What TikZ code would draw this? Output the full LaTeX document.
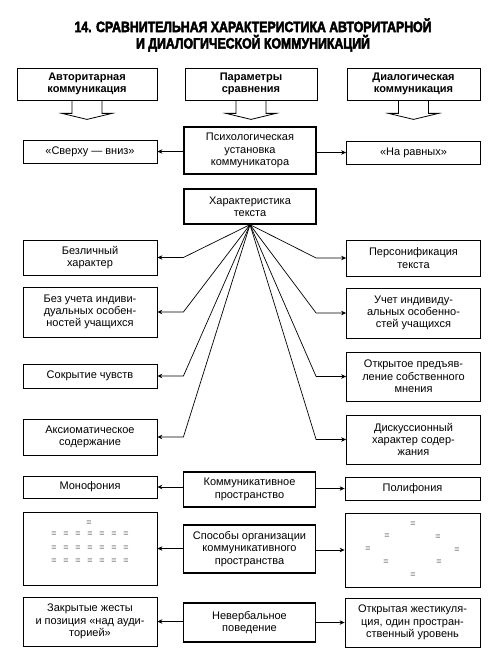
\documentclass[tikz,border=0pt]{standalone}
\usepackage{fontspec}
\setmainfont{Liberation Sans}
\newfontfamily\titlefont{Liberation Sans}[FakeStretch=0.82,FakeBold=3]
\usetikzlibrary{arrows.meta}
\begin{document}
\begin{tikzpicture}[x=1pt,y=-1pt]
\tikzstyle{every node}+=[inner sep=0pt,align=center,font=\fontsize{11}{12.3}\selectfont]
\tikzstyle{box}=[draw,line width=0.8pt,minimum width=134pt]
\tikzstyle{midbox}=[draw,line width=1.3pt,minimum width=132pt]
\tikzstyle{headbox}=[box,minimum height=32pt,font=\fontsize{11}{12.3}\selectfont\bfseries]
\tikzstyle{arr}=[line width=0.7pt,-{Stealth[length=5pt,width=4.5pt]}]
\tikzstyle{dot}=[font=\fontsize{9}{9}\selectfont,text=black!70]
\useasboundingbox (0,0) rectangle (493,658);
\node [font=\titlefont\fontsize{15}{16.5}\selectfont\bfseries] (title) at (253,35) {14. СРАВНИТЕЛЬНАЯ ХАРАКТЕРИСТИКА АВТОРИТАРНОЙ\\И ДИАЛОГИЧЕСКОЙ КОММУНИКАЦИЙ};
\node [headbox,minimum width=140pt] (aut) at (87,84) {Авторитарная\\коммуникация};
\node [headbox,minimum width=132pt] (par) at (251,84) {Параметры\\сравнения};
\node [headbox,minimum width=133pt] (dia) at (413.5,84) {Диалогическая\\коммуникация};
\foreach \n in {aut,par,dia}
  \draw [line width=0.8pt] ([xshift=-15pt]\n.south) -- ++(0,13) -- ++(-10,0) -- ++(25,6) -- ++(25,-6) -- ++(-10,0) -- ++(0,-13);
\node [midbox,minimum height=47pt] (psych) at (250,150.5) {Психологическая\\установка\\коммуникатора};
\node [box,minimum height=23pt] (sv) at (90,151.5) {«Сверху — вниз»};
\node [box,minimum height=23pt] (nr) at (413.5,152.5) {«На равных»};
\node [midbox,minimum height=35pt] (xar) at (250,206.5) {Характеристика\\текста};
\node [box,minimum height=35pt] (l1) at (90,257.5) {Безличный\\характер};
\node [box,minimum height=50pt] (l2) at (90,312) {Без учета индиви-\\дуальных особен-\\ностей учащихся};
\node [box,minimum height=24pt] (l3) at (90,376) {Сокрытие чувств};
\node [box,minimum height=36pt] (l4) at (90,437) {Аксиоматическое\\содержание};
\node [box,minimum height=36pt] (r1) at (413.5,258) {Персонификация\\текста};
\node [box,minimum height=50pt] (r2) at (413.5,313) {Учет индивиду-\\альных особенно-\\стей учащихся};
\node [box,minimum height=49pt] (r3) at (413.5,376.5) {Открытое предъяв-\\ление собственного\\мнения};
\node [box,minimum height=49pt] (r4) at (413.5,439.5) {Дискуссионный\\характер содер-\\жания};
\foreach \n in {l1,l2,l3,l4}
  \draw [arr] (xar.south) -- ([xshift=26pt]\n.east) -- (\n.east);
\foreach \n in {r1,r2,r3,r4}
  \draw [arr] (xar.south) -- ([xshift=-30pt]\n.west) -- (\n.west);
\node [midbox,minimum height=35pt] (komm) at (249.5,489.5) {Коммуникативное\\пространство};
\node [box,minimum height=22pt] (mono) at (90,487) {Монофония};
\node [box,minimum height=23pt,minimum width=135pt] (poli) at (412.5,488.5) {Полифония};
\node [midbox,minimum height=48pt] (spos) at (249.5,549) {Способы организации\\коммуникативного\\пространства};
\node [box,minimum height=73pt] (ld) at (90,548.5) {};
\node [box,minimum height=74pt,minimum width=135pt] (rd) at (412.5,550) {};
\node [midbox,minimum height=39pt] (nev) at (249.5,622.5) {Невербальное\\поведение};
\node [box,minimum height=49pt] (zak) at (90,621.5) {Закрытые жесты\\и позиция «над ауди-\\торией»};
\node [box,minimum height=49pt,minimum width=135pt] (otk) at (412.5,622.5) {Открытая жестикуля-\\ция, один простран-\\ственный уровень};
\foreach \a/\b in {psych/sv,komm/mono,spos/ld,nev/zak}
  \draw [arr] (\b.east -| \a.west) -- (\b.east);
\foreach \a/\b in {psych/nr,komm/poli,spos/rd,nev/otk}
  \draw [arr] (\b.west -| \a.east) -- (\b.west);
\node [dot] (d0) at (89,523) {=};
\foreach \r/\y in {1/534,2/548,3/561}
  \foreach \k in {0,...,6}
    \node [dot] (d\r\k) at ({54+12*\k},\y) {=};
\foreach \x/\y [count=\i] in {413/524,387/536,438/537,368/549,457/550,386/562,439/562,413/575}
  \node [dot] (e\i) at (\x,\y) {=};
\end{tikzpicture}
\end{document}
